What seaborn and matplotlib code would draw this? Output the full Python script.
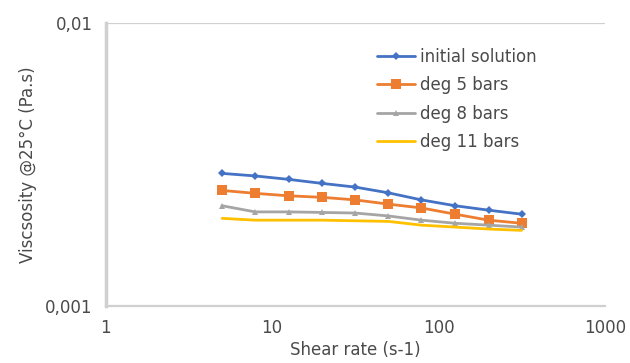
import numpy as np
import pandas as pd
import matplotlib
matplotlib.use("Agg")
import matplotlib.pyplot as plt
from matplotlib.ticker import FixedLocator, FixedFormatter, NullLocator
import seaborn as sns

# Shear rates (s-1) and viscosities (Pa.s) at 25 °C
shear_rate = [5.0, 7.9, 12.6, 20.0, 31.6, 50.0, 79.0, 126.0, 200.0, 316.0]
initial_solution = [0.00294, 0.00288, 0.00280, 0.00271, 0.00263, 0.00251, 0.00237, 0.00226, 0.00218, 0.00211]
deg_5_bars = [0.00256, 0.00250, 0.00245, 0.00242, 0.00237, 0.00229, 0.00222, 0.00211, 0.00201, 0.00196]
deg_8_bars = [0.00226, 0.00215, 0.00215, 0.00214, 0.00213, 0.00208, 0.00201, 0.00196, 0.00193, 0.00190]
deg_11_bars = [0.00204, 0.00201, 0.00201, 0.00201, 0.00200, 0.00199, 0.00193, 0.00190, 0.00187, 0.00185]

series_names = ["initial solution", "deg 5 bars", "deg 8 bars", "deg 11 bars"]
series_values = [initial_solution, deg_5_bars, deg_8_bars, deg_11_bars]

x_ticks = [1, 10, 100, 1000]
x_tick_labels = ["1", "10", "100", "1000"]
y_ticks = [0.001, 0.01]
y_tick_labels = ["0,001", "0,01"]

df = pd.DataFrame({
    "Shear rate": np.tile(shear_rate, len(series_names)),
    "Viscosity": np.concatenate(series_values),
    "Sample": np.repeat(series_names, len(shear_rate)),
})

sns.set_theme(style="white")
plt.rcParams["font.family"] = ["DejaVu Sans"]

palette = {
    "initial solution": "#4472C4",
    "deg 5 bars": "#ED7D31",
    "deg 8 bars": "#A5A5A5",
    "deg 11 bars": "#FFC000",
}
markers = {
    "initial solution": "D",
    "deg 5 bars": "s",
    "deg 8 bars": "^",
    "deg 11 bars": "",
}
msizes = {
    "initial solution": 4,
    "deg 5 bars": 7,
    "deg 8 bars": 5,
    "deg 11 bars": 0,
}

fig = plt.figure(figsize=(6.3, 3.63), dpi=100)
ax = fig.add_axes([0.168, 0.157, 0.792, 0.78])

for name in series_names:
    sub = df[df["Sample"] == name]
    sns.lineplot(data=sub, x="Shear rate", y="Viscosity", ax=ax,
                 color=palette[name], marker=markers[name] or None,
                 markersize=msizes[name], markeredgewidth=0,
                 linewidth=2.0, label=name)

ax.set_xscale("log")
ax.set_yscale("log")
ax.set_xlim(1, 1000)
ax.set_ylim(0.001, 0.01)

ax.xaxis.set_major_locator(FixedLocator(x_ticks))
ax.xaxis.set_major_formatter(FixedFormatter(x_tick_labels))
ax.xaxis.set_minor_locator(NullLocator())
ax.yaxis.set_major_locator(FixedLocator(y_ticks))
ax.yaxis.set_major_formatter(FixedFormatter(y_tick_labels))
ax.yaxis.set_minor_locator(NullLocator())

text_color = "#4a4a4a"
fs = 12
ax.tick_params(axis="x", which="major", length=4, width=1.2, color="#BFBFBF",
               direction="inout", labelsize=fs, labelcolor=text_color, pad=7)
ax.tick_params(axis="y", which="major", length=0, labelsize=fs,
               labelcolor=text_color, pad=9.5)

# Horizontal gridline at the top decade
ax.axhline(0.01, color="#D0D0D0", linewidth=1.6, zorder=0)

for side in ["top", "right"]:
    ax.spines[side].set_visible(False)
ax.spines["left"].set_color("#D0D0D0")
ax.spines["left"].set_linewidth(2.5)
ax.spines["bottom"].set_color("#D0D0D0")
ax.spines["bottom"].set_linewidth(1.6)

ax.set_xlabel("Shear rate (s-1)", fontsize=fs, color=text_color, labelpad=3)
ax.set_ylabel("Viscsosity @25°C (Pa.s)", fontsize=fs, color=text_color, labelpad=6)

handles, labels = ax.get_legend_handles_labels()
leg = ax.legend(handles, labels, loc="upper left", bbox_to_anchor=(0.5425, 0.913),
                frameon=False, fontsize=fs, handlelength=2.3, handletextpad=0.3,
                labelspacing=0.63, borderaxespad=0, borderpad=0)
for t in leg.get_texts():
    t.set_color(text_color)

fig.savefig("out.png", dpi=100)
